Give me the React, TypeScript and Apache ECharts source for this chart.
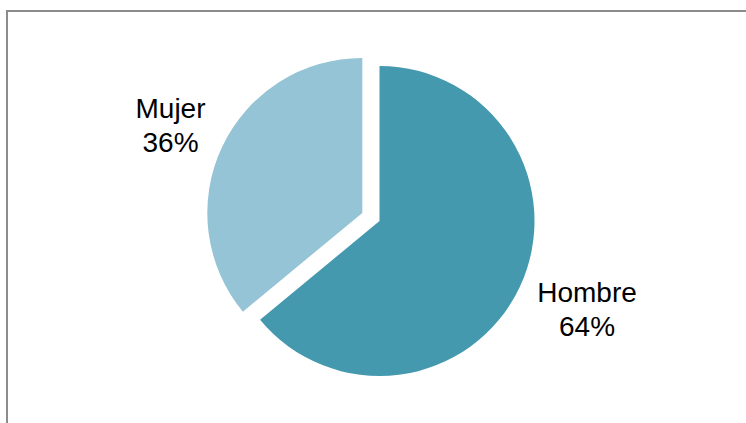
import React, { useEffect, useRef } from "react";
import * as echarts from "echarts";

const categories = ["Hombre", "Mujer"];
const values = [64, 36];
const colors = ["#4499AF", "#94C4D5"];

export default function App() {
  const ref = useRef<HTMLDivElement>(null);
  useEffect(() => {
    document.body.style.margin = "0";
    const chart = echarts.init(ref.current!, null, { renderer: "svg" });
    const labelPos = [
      { x: 587, y: 309.5 },
      { x: 170.5, y: 125.7 },
    ];
    const total = values.reduce((a, b) => a + b, 0);
    chart.setOption({
      animation: false,
      backgroundColor: "#ffffff",
      graphic: [
        {
          type: "polyline",
          shape: { points: [[7, 423], [7, 11], [746, 11]] },
          style: { stroke: "#8c8c8c", lineWidth: 2, fill: null },
        },
        ...categories.map((name, i) => ({
          type: "text",
          x: labelPos[i].x,
          y: labelPos[i].y,
          z: 10,
          style: {
            text: name + "\n" + Math.round((values[i] / total) * 100) + "%",
            fontFamily: "Liberation Sans, Arial, sans-serif",
            fontSize: 28,
            lineHeight: 34,
            fill: "#000000",
            align: "center",
            verticalAlign: "middle",
          },
        })),
      ],
      series: [
        {
          type: "pie",
          center: [379.5, 221],
          radius: 155,
          startAngle: 90,
          clockwise: true,
          selectedMode: "single",
          selectedOffset: 19,
          emphasis: { disabled: true },
          labelLine: { show: false },
          label: { show: false },
          data: categories.map((name, i) => ({
            name,
            value: values[i],
            selected: name === "Mujer",
            itemStyle: { color: colors[i] },
          })),
        },
      ],
    });
    return () => chart.dispose();
  }, []);
  return (
    <div
      ref={ref}
      style={{ position: "absolute", left: 0, top: 0, width: 746, height: 423 }}
    />
  );
}
